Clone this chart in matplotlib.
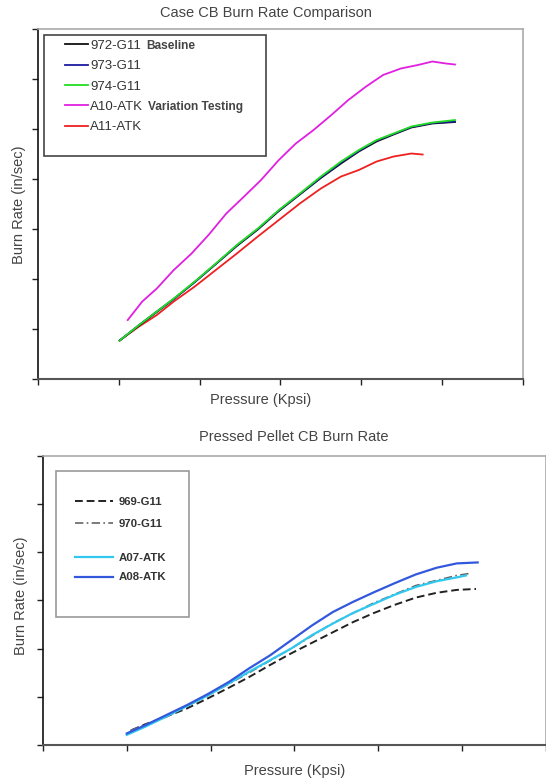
import matplotlib.pyplot as plt
from matplotlib.patches import Rectangle

plt.rcParams['font.family'] = ['Liberation Sans', 'DejaVu Sans']
TXT = '#444444'

# --- Case CB Burn Rate Comparison (arbitrary units, no tick labels) ---
p_g11 = [1.01, 1.25, 1.47, 1.68, 1.94, 2.20, 2.46, 2.72, 2.98, 3.24, 3.50,
         3.75, 3.97, 4.19, 4.40, 4.62, 4.88, 5.16]
r_972 = [0.77, 1.07, 1.34, 1.60, 1.94, 2.30, 2.66, 2.99, 3.36, 3.69, 4.02,
         4.31, 4.55, 4.75, 4.89, 5.03, 5.11, 5.14]
r_973 = [0.77, 1.08, 1.35, 1.60, 1.94, 2.30, 2.67, 3.00, 3.37, 3.70, 4.03,
         4.33, 4.56, 4.77, 4.90, 5.04, 5.12, 5.15]
r_974 = [0.77, 1.08, 1.35, 1.61, 1.95, 2.31, 2.68, 3.01, 3.38, 3.71, 4.05,
         4.35, 4.58, 4.78, 4.91, 5.05, 5.13, 5.18]
p_a10 = [1.11, 1.29, 1.47, 1.68, 1.90, 2.11, 2.33, 2.55, 2.76, 2.98, 3.19,
         3.41, 3.63, 3.84, 4.06, 4.27, 4.49, 4.70, 4.88, 5.05, 5.16]
r_a10 = [1.18, 1.55, 1.81, 2.18, 2.51, 2.88, 3.31, 3.65, 3.98, 4.38, 4.71,
         4.98, 5.28, 5.58, 5.85, 6.08, 6.21, 6.28, 6.35, 6.31, 6.29]
p_a11 = [1.01, 1.25, 1.47, 1.68, 1.94, 2.20, 2.46, 2.72, 2.98, 3.24, 3.50,
         3.75, 3.97, 4.19, 4.40, 4.62, 4.76]
r_a11 = [0.77, 1.05, 1.28, 1.55, 1.85, 2.18, 2.51, 2.85, 3.18, 3.51, 3.81,
         4.05, 4.18, 4.35, 4.45, 4.51, 4.49]

# --- Pressed Pellet CB Burn Rate ---
p_969 = [1.06, 1.22, 1.47, 1.72, 1.97, 2.22, 2.46, 2.71, 2.96, 3.21, 3.46,
         3.70, 3.95, 4.20, 4.45, 4.70, 4.94, 5.17]
r_969 = [0.31, 0.43, 0.59, 0.76, 0.97, 1.19, 1.41, 1.66, 1.90, 2.12, 2.34,
         2.55, 2.74, 2.91, 3.06, 3.16, 3.22, 3.24]
p_970 = [1.04, 1.47, 1.97, 2.46, 2.96, 3.46, 3.95, 4.45, 4.94, 5.09]
r_970 = [0.30, 0.58, 1.03, 1.50, 2.00, 2.53, 2.95, 3.31, 3.52, 3.56]
p_a07 = [1.00, 1.22, 1.47, 1.72, 1.97, 2.22, 2.46, 2.71, 2.96, 3.21, 3.46,
         3.70, 3.95, 4.20, 4.45, 4.70, 4.94, 5.05]
r_a07 = [0.21, 0.38, 0.59, 0.81, 1.03, 1.28, 1.52, 1.76, 2.00, 2.28, 2.52,
         2.74, 2.93, 3.12, 3.28, 3.40, 3.48, 3.52]
p_a08 = [1.00, 1.22, 1.47, 1.72, 1.97, 2.22, 2.46, 2.71, 2.96, 3.21, 3.46,
         3.70, 3.95, 4.20, 4.45, 4.70, 4.94, 5.19]
r_a08 = [0.24, 0.41, 0.62, 0.83, 1.06, 1.31, 1.59, 1.86, 2.17, 2.48, 2.76,
         2.97, 3.17, 3.36, 3.54, 3.68, 3.77, 3.79]


def style_axes(ax, xmax, ymax):
    ax.set_xlim(0, xmax)
    ax.set_ylim(0, ymax)
    ax.set_xticks(range(xmax + 1))
    ax.set_yticks(range(ymax + 1))
    ax.set_xticklabels([])
    ax.set_yticklabels([])
    ax.tick_params(direction='out', length=4, width=1, color='#222222')
    ax.spines['left'].set_color('#111111')
    ax.spines['left'].set_linewidth(1.2)
    ax.spines['bottom'].set_color('#555555')
    ax.spines['bottom'].set_linewidth(1.5)
    for s in ('top', 'right'):
        ax.spines[s].set_color('#aaaaaa')
        ax.spines[s].set_linewidth(1.2)


fig = plt.figure(figsize=(5.46, 7.82), dpi=100)

# top chart
ax1 = fig.add_axes([0.0696, 0.5153, 0.888, 0.4476])
style_axes(ax1, 6, 7)
l_a11, = ax1.plot(p_a11, r_a11, color='#ee2020', lw=1.3)
l_a10, = ax1.plot(p_a10, r_a10, color='#e020e0', lw=1.3)
l_972, = ax1.plot(p_g11, r_972, color='#111111', lw=1.3)
l_973, = ax1.plot(p_g11, r_973, color='#1a1aa0', lw=1.3)
l_974, = ax1.plot(p_g11, r_974, color='#22dd22', lw=1.3)

leg = ax1.legend([l_972, l_973, l_974, l_a10, l_a11],
                 ['972-G11', '973-G11', '974-G11', 'A10-ATK', 'A11-ATK'],
                 loc='upper left', bbox_to_anchor=(0.0557, 0.970),
                 frameon=False, borderpad=0, borderaxespad=0,
                 handlelength=1.75, handletextpad=0.15, labelspacing=0.62,
                 prop={'size': 9.5})
for t in leg.get_texts():
    t.set_color('#333333')
ax1.add_patch(Rectangle((0.0124, 0.637), 0.458, 0.346, transform=ax1.transAxes,
                        fill=False, edgecolor='#444444', lw=1.2, clip_on=False))

fig.text(266 / 546, 1 - 13 / 782, 'Case CB Burn Rate Comparison',
         ha='center', va='center', fontsize=10.5, color=TXT)
fig.text(261 / 546, 1 - 400 / 782, 'Pressure (Kpsi)',
         ha='center', va='center', fontsize=10.5, color=TXT)
fig.text(19 / 546, 1 - 205 / 782, 'Burn Rate (in/sec)', rotation=90,
         ha='center', va='center', fontsize=10.5, color=TXT)

# bottom chart
ax2 = fig.add_axes([0.0788, 0.0473, 0.9203, 0.3696])
style_axes(ax2, 6, 6)
l_969, = ax2.plot(p_969, r_969, color='#222222', lw=1.4, ls=(0, (4, 2)))
l_970, = ax2.plot(p_970, r_970, color='#666666', lw=1.2, ls=(0, (5, 2, 1, 2)))
l_a07, = ax2.plot(p_a07, r_a07, color='#30c8ee', lw=1.6)
l_a08, = ax2.plot(p_a08, r_a08, color='#3358dd', lw=1.6)

leg_a = ax2.legend([l_969, l_970], ['969-G11', '970-G11'],
                   loc='upper left', bbox_to_anchor=(0.0637, 0.857),
                   frameon=False, borderpad=0, borderaxespad=0,
                   handlelength=3.3, handletextpad=0.55, labelspacing=1.0,
                   prop={'size': 8.2, 'weight': 'bold'})
ax2.add_artist(leg_a)
leg_b = ax2.legend([l_a07, l_a08], ['A07-ATK', 'A08-ATK'],
                   loc='upper left', bbox_to_anchor=(0.0637, 0.663),
                   frameon=False, borderpad=0, borderaxespad=0,
                   handlelength=3.3, handletextpad=0.55, labelspacing=0.8,
                   prop={'size': 8.2, 'weight': 'bold'})
for t in leg_a.get_texts() + leg_b.get_texts():
    t.set_color('#333333')
ax2.add_patch(Rectangle((0.0259, 0.443), 0.265, 0.505, transform=ax2.transAxes,
                        fill=False, edgecolor='#999999', lw=1.2, clip_on=False))

fig.text(294 / 546, 1 - 437 / 782, 'Pressed Pellet CB Burn Rate',
         ha='center', va='center', fontsize=10.5, color=TXT)
fig.text(295 / 546, 1 - 771 / 782, 'Pressure (Kpsi)',
         ha='center', va='center', fontsize=10.5, color=TXT)
fig.text(21 / 546, 1 - 596 / 782, 'Burn Rate (in/sec)', rotation=90,
         ha='center', va='center', fontsize=10.5, color=TXT)

# small notes after two legend entries, placed once legend positions are known
fig.canvas.draw()
inv = fig.transFigure.inverted()
for idx, note in ((0, 'Baseline'), (3, 'Variation Testing')):
    bb = leg.get_texts()[idx].get_window_extent()
    fx, fy = inv.transform((bb.x1 + 5, (bb.y0 + bb.y1) / 2))
    fig.text(fx, fy, note, ha='left', va='center', fontsize=8.6,
             fontweight='bold', color='#444444')

fig.savefig('out.png', dpi=100)
